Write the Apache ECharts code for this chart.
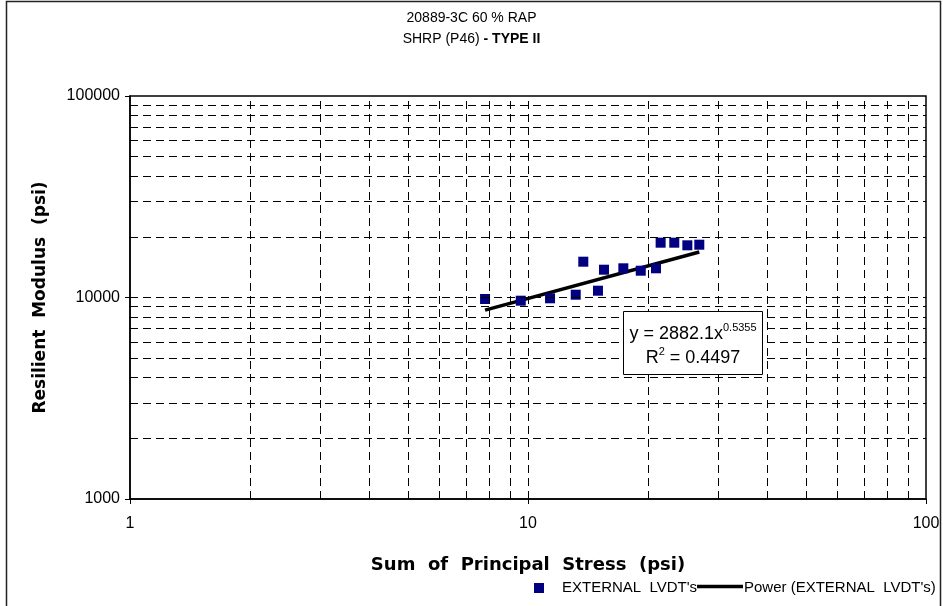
<!DOCTYPE html>
<html>
<head>
<meta charset="utf-8">
<script src="https://cdn.jsdelivr.net/npm/echarts@6/dist/echarts.min.js"></script>
<style>html,body{margin:0;padding:0;background:#fff;}#chart{width:943px;height:606px;}</style>
</head>
<body>
<div id="chart"></div>
<script>
// Data
const stress = [7.80, 9.59, 11.36, 13.18, 13.77, 14.99, 15.52, 17.36, 19.20, 20.97, 21.54, 23.31, 25.14, 26.94];
const modulus = [9830, 9641, 9908, 10325, 15056, 10808, 13740, 13960, 13583, 13960, 18707, 18707, 18155, 18281];
// Power trend line end points (y = 2882.1x^0.5355)
const trendX = [7.80, 26.94];
const trendY = [8660, 16820];
const xTicks = [1, 10, 100];
const yTicks = [1000, 10000, 100000];
const xGrid = [2, 3, 4, 5, 6, 7, 8, 9, 10, 20, 30, 40, 50, 60, 70, 80, 90];
const yGrid = [2000, 3000, 4000, 5000, 6000, 7000, 8000, 9000, 10000, 20000, 30000, 40000, 50000, 60000, 70000, 80000, 90000];
const seriesName = "EXTERNAL  LVDT's";
const trendName = "Power (EXTERNAL  LVDT's)";
const fitText = ['y = 2882.1x', '0.5355', '0.4497'];

const scatterData = stress.map((x, i) => [x, modulus[i]]);
const trendData = trendX.map((x, i) => [x, trendY[i]]);

const font = 'Liberation Sans, Arial, sans-serif';
const heavy = 'DejaVu Sans, Arial, sans-serif';
const dash = [8, 5];

const gridLines = xGrid.map(v => ({ xAxis: v })).concat(yGrid.map(v => ({ yAxis: v })));

const chart = echarts.init(document.getElementById('chart'), null, { renderer: 'canvas' });
chart.setOption({
  animation: false,
  backgroundColor: '#fff',
  textStyle: { fontFamily: font },
  title: {
    text: '20889-3C 60 % RAP\nSHRP (P46) {b|- TYPE II}',
    left: 'center',
    top: 3,
    textStyle: {
      fontFamily: font, fontSize: 14, fontWeight: 'normal', color: '#000', lineHeight: 21,
      rich: { b: { fontFamily: font, fontSize: 14, fontWeight: 'bold', color: '#000', lineHeight: 21 } }
    }
  },
  grid: { left: 130, right: 17, top: 96, bottom: 107, containLabel: false },
  xAxis: {
    type: 'log', logBase: 10, min: 1, max: 100,
    name: 'Sum  of  Principal  Stress  (psi)',
    nameLocation: 'middle', nameGap: 57,
    nameTextStyle: { fontFamily: heavy, fontWeight: 'bold', fontSize: 18, color: '#000' },
    axisLine: { show: true, onZero: false, lineStyle: { color: '#000', width: 1.5 } },
    axisTick: { show: true, length: 5, lineStyle: { color: '#000' } },
    axisLabel: { fontFamily: font, fontSize: 16, color: '#000', margin: 17 },
    splitLine: { show: false },
    minorTick: { show: false }
  },
  yAxis: {
    type: 'log', logBase: 10, min: 1000, max: 100000,
    name: 'Resilient  Modulus  (psi)',
    nameLocation: 'middle', nameGap: 81, nameRotate: 90,
    nameTextStyle: { fontFamily: heavy, fontWeight: 'bold', fontSize: 17, color: '#000' },
    axisLine: { show: true, onZero: false, lineStyle: { color: '#000', width: 1.5 } },
    axisTick: { show: true, length: 5, lineStyle: { color: '#000' } },
    axisLabel: { fontFamily: font, fontSize: 16, color: '#000', margin: 10,
      formatter: v => String(Math.round(v)) },
    splitLine: { show: false },
    minorTick: { show: false }
  },
  series: [
    {
      name: '__grid', type: 'line', data: [], silent: true,
      markLine: {
        silent: true, symbol: ['none', 'none'], animation: false,
        label: { show: false },
        lineStyle: { color: '#000', width: 1, type: dash },
        emphasis: { disabled: true },
        data: gridLines
      }
    },
    {
      name: trendName, type: 'line', data: trendData, showSymbol: false, symbol: 'none',
      lineStyle: { color: '#000', width: 3.5 }, z: 3
    },
    {
      name: seriesName, type: 'scatter', data: scatterData, symbol: 'rect', symbolSize: 10,
      itemStyle: { color: '#000080', opacity: 1 }, z: 4
    }
  ],
  graphic: [
    { type: 'rect', shape: { x: 6.5, y: 1.5, width: 934, height: 640 }, style: { fill: 'none', stroke: '#222', lineWidth: 1.5 }, silent: true },
    { type: 'rect', shape: { x: 130, y: 96, width: 796, height: 403 }, style: { fill: 'none', stroke: '#000', lineWidth: 1.5 }, silent: true, z: 10 },
    { type: 'rect', shape: { x: 623.5, y: 311.5, width: 139, height: 63 }, style: { fill: '#fff', stroke: '#000', lineWidth: 1 }, z: 20 },
    { type: 'text', x: 693, y: 334, z: 21,
      style: { text: fitText[0] + '{s|' + fitText[1] + '}', fill: '#000', font: '18px ' + font, align: 'center', verticalAlign: 'middle',
        rich: { s: { fontSize: 11, fontFamily: font, fill: '#000', verticalAlign: 'top', padding: [0, 0, 12, 0] } } } },
    { type: 'text', x: 693, y: 358, z: 21,
      style: { text: 'R{s|2} = ' + fitText[2], fill: '#000', font: '18px ' + font, align: 'center', verticalAlign: 'middle',
        rich: { s: { fontSize: 11, fontFamily: font, fill: '#000', verticalAlign: 'top', padding: [0, 0, 12, 0] } } } },
    // legend
    { type: 'rect', shape: { x: 534, y: 583, width: 10, height: 10 }, style: { fill: '#000080' } },
    { type: 'text', x: 562, y: 588, style: { text: seriesName, fill: '#000', font: '15px ' + font, verticalAlign: 'middle' } },
    { type: 'line', shape: { x1: 697, y1: 586.5, x2: 743, y2: 586.5 }, style: { stroke: '#000', lineWidth: 3.5 } },
    { type: 'text', x: 744, y: 588, style: { text: trendName, fill: '#000', font: '15px ' + font, verticalAlign: 'middle' } }
  ]
});
</script>
</body>
</html>
